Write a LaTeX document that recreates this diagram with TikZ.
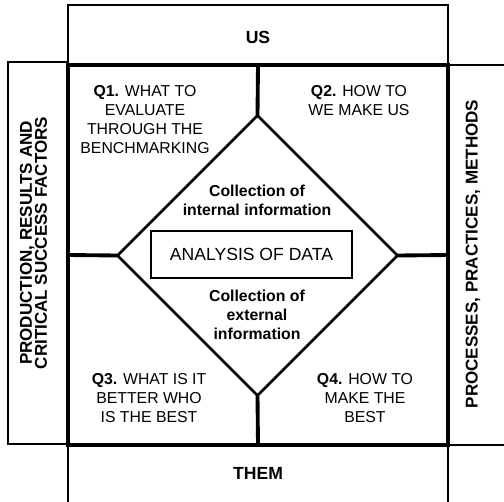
\documentclass[tikz,border=0pt]{standalone}
\usepackage{fontspec}
\setmainfont{Liberation Sans}
\usepackage{tikz}
\usetikzlibrary{shapes.geometric}

\begin{document}
\begin{tikzpicture}[x=0.02cm, y=-0.02cm,
	frame/.style={draw, line width=1.6pt, inner sep=0pt, outer sep=0pt},
	divider/.style={line width=2.2pt},
	side/.style={font=\fontsize{9.7}{8.6}\selectfont\bfseries, align=center, rotate=90},
	quest/.style={font=\fontsize{9}{10.8}\selectfont, align=center},
	coll/.style={font=\fontsize{9}{10.8}\selectfont\bfseries, align=center},
	head/.style={font=\fontsize{10}{12}\selectfont\bfseries}]
			\useasboundingbox (0,0) rectangle (504,501);
			\clip (0,0) rectangle (504,501);

			% Rahmen aussen
			\node[frame, minimum width=7.6cm, minimum height=1.2cm] (us) at (258,35) {};
			\node[frame, minimum width=1.18cm, minimum height=7.64cm] (prod) at (37.5,253) {};
			\node[frame, minimum width=1.3cm, minimum height=7.6cm] (proc) at (480.5,255) {};
			\node[frame, minimum width=7.6cm, minimum height=1.3cm] (them) at (258,477.5) {};

			\node[head] (uslbl) at (258,37) {US};
			\node[head] (themlbl) at (258,473) {THEM};
			\node[side] (prodlbl) at (33.5,243) {PRODUCTION, RESULTS AND\\CRITICAL SUCCESS FACTORS};
			\node[side] (proclbl) at (473,254) {PROCESSES, PRACTICES, METHODS};

			% Quadrat + Raute
			\node[draw, line width=2.2pt, minimum size=7.6cm, inner sep=0pt, outer sep=0pt] (quad) at (258,255) {};
			\node[diamond, aspect=1, draw, line width=1.5pt, minimum size=5.6cm, inner sep=0pt, outer sep=0pt] (dia) at (257.5,255.5) {};

			\draw[divider] (quad.north) -- (dia.north);
			\draw[divider] (quad.south) -- (dia.south);
			\draw[divider] (quad.west) -- (dia.west);
			\draw[divider] (quad.east) -- (dia.east);

			% Mitte
			\node[draw, line width=1.1pt, minimum width=4.02cm, minimum height=0.94cm,
				font=\fontsize{10}{12}\selectfont] (ana) at (251.5,254.5) {ANALYSIS OF DATA};
			\node[coll] (intl) at (257,200) {Collection of\\internal information};
			\node[coll] (extl) at (257,314.5) {Collection of\\external\\information};

			% Fragen
			\node[quest] (q1) at (145,119.5) {\textbf{Q1.} WHAT TO\\EVALUATE\\THROUGH THE\\BENCHMARKING};
			\node[quest] (q2) at (359,100.5) {\textbf{Q2.} HOW TO\\WE MAKE US};
			\node[quest] (q3) at (149,398) {\textbf{Q3.} WHAT IS IT\\BETTER WHO\\IS THE BEST};
			\node[quest] (q4) at (365,398) {\textbf{Q4.} HOW TO\\MAKE THE\\BEST};
		\end{tikzpicture}
\end{document}
